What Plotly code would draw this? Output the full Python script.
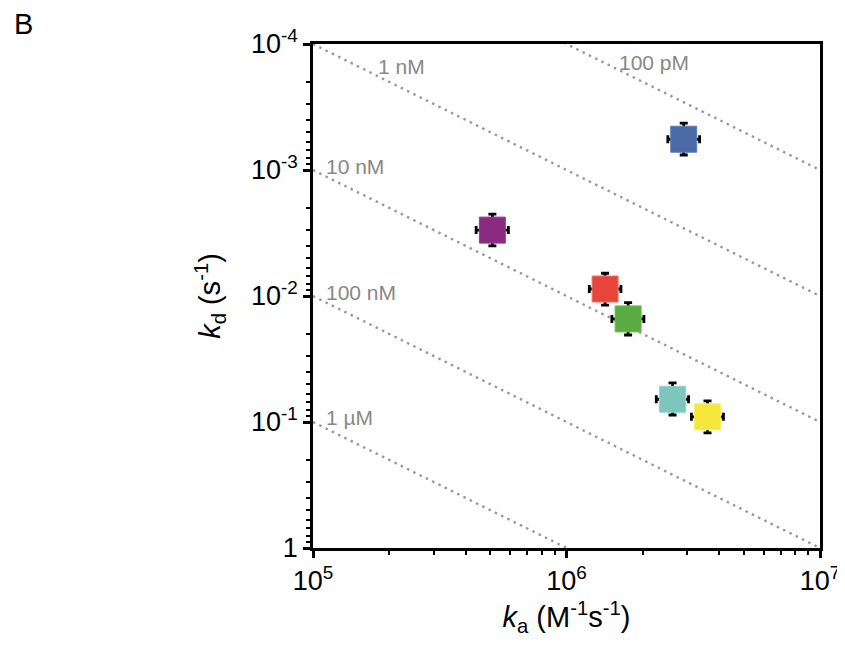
import math
import plotly.graph_objects as go

# ---- data ----
ka = [2.9e6, 5.1e5, 1.42e6, 1.75e6, 2.62e6, 3.6e6]
kd = [5.7e-4, 3.0e-3, 8.8e-3, 1.52e-2, 6.6e-2, 9.1e-2]
ka_err_plus = [0.45e6, 0.08e6, 0.22e6, 0.27e6, 0.41e6, 0.56e6]
ka_err_minus = [0.39e6, 0.07e6, 0.19e6, 0.24e6, 0.36e6, 0.49e6]
kd_err_plus = [1.9e-4, 1.0e-3, 3.0e-3, 5.2e-3, 2.2e-2, 3.1e-2]
kd_err_minus = [1.45e-4, 0.76e-3, 2.2e-3, 3.9e-3, 1.7e-2, 2.3e-2]
colors = ["#4A6AA8", "#8A2A80", "#E8453A", "#5AAC42", "#7EC5BE", "#F4E63A"]
edge_colors = ["#5A7AB8", "#9A3A90", "#F07565", "#6ABC52", "#8ED5CE", "#F8EE60"]

KD_values = [1e-10, 1e-9, 1e-8, 1e-7, 1e-6]
KD_labels = ["100 pM", "1 nM", "10 nM", "100 nM", "1 µM"]
label_x = [1.58e6, 1.77e5, 1.11e5, 1.11e5, 1.11e5]
label_y = [1.39e-4, 1.5e-4, 9.3e-4, 9.46e-3, 9.29e-2]

ka_range = [1e5, 1e7]
x_tickvals = [1e5, 1e6, 1e7]
x_ticktext = ["10<sup>5</sup>", "10<sup>6</sup>", "10<sup>7</sup>"]
y_tickvals = [1e-4, 1e-3, 1e-2, 1e-1, 1]
y_ticktext = ["10<sup>-4</sup>", "10<sup>-3</sup>", "10<sup>-2</sup>", "10<sup>-1</sup>", "1"]

FONT = "Arial, Liberation Sans, Helvetica, sans-serif"

fig = go.Figure()

# iso-affinity lines (kd = KD * ka)
for KD in KD_values:
    fig.add_trace(go.Scatter(
        x=ka_range, y=[KD * ka_range[0], KD * ka_range[1]],
        mode="lines", line=dict(color="#999999", width=2.4, dash="2.5px,4.5px"),
        hoverinfo="skip", showlegend=False))

# data points
for i in range(len(ka)):
    fig.add_trace(go.Scatter(
        x=[ka[i]], y=[kd[i]], mode="markers",
        marker=dict(symbol="square", size=26, color=colors[i],
                    line=dict(color=edge_colors[i], width=1)),
        error_x=dict(type="data", array=[ka_err_plus[i]], arrayminus=[ka_err_minus[i]],
                     color="black", thickness=2.8, width=4),
        error_y=dict(type="data", array=[kd_err_plus[i]], arrayminus=[kd_err_minus[i]],
                     color="black", thickness=2.8, width=4),
        showlegend=False))

for t, x, y in zip(KD_labels, label_x, label_y):
    fig.add_annotation(x=math.log10(x), y=math.log10(y), xref="x", yref="y", text=t,
                       showarrow=False, xanchor="left", yanchor="middle",
                       font=dict(family=FONT, size=21, color="#888888"))

fig.add_annotation(x=-0.571, y=1.04, xref="paper", yref="paper", text="B", showarrow=False,
                   xanchor="center", yanchor="middle",
                   font=dict(family=FONT, size=29, color="black"))

minor_x = [m * 10 ** e for e in (5, 6) for m in range(2, 10)]
minor_y = [m * 10 ** e for e in (-4, -3, -2, -1) for m in range(2, 10)]

fig.update_layout(
    width=837, height=639,
    margin=dict(l=305, r=25, t=36, b=99, autoexpand=False),
    paper_bgcolor="white", plot_bgcolor="white",
    font=dict(family=FONT, color="black"),
)

fig.update_xaxes(
    type="log", range=[5, 7], automargin=False,
    tickvals=x_tickvals, ticktext=x_ticktext,
    ticks="outside", ticklen=7, tickwidth=2.5, tickcolor="black",
    minor=dict(tickvals=minor_x, ticks="outside", ticklen=4, tickwidth=2, tickcolor="black"),
    showline=True, linewidth=2.5, linecolor="black", mirror=True,
    showgrid=False, zeroline=False,
    tickfont=dict(family=FONT, size=27, color="black"),
    title=dict(text="<i>k</i><sub>a</sub> (M<sup>-1</sup>s<sup>-1</sup>)",
               font=dict(family=FONT, size=29, color="black"), standoff=12),
)
fig.update_yaxes(
    type="log", range=[0, -4], automargin=False,
    tickvals=y_tickvals, ticktext=y_ticktext,
    ticks="outside", ticklen=7, tickwidth=2.5, tickcolor="black",
    minor=dict(tickvals=minor_y, ticks="outside", ticklen=4, tickwidth=2, tickcolor="black"),
    showline=True, linewidth=2.5, linecolor="black", mirror=True,
    showgrid=False, zeroline=False,
    tickfont=dict(family=FONT, size=27, color="black"),
    title=dict(text="<i>k</i><sub>d</sub> (s<sup>-1</sup>)",
               font=dict(family=FONT, size=29, color="black"), standoff=22),
)

fig.write_html("out.html")
